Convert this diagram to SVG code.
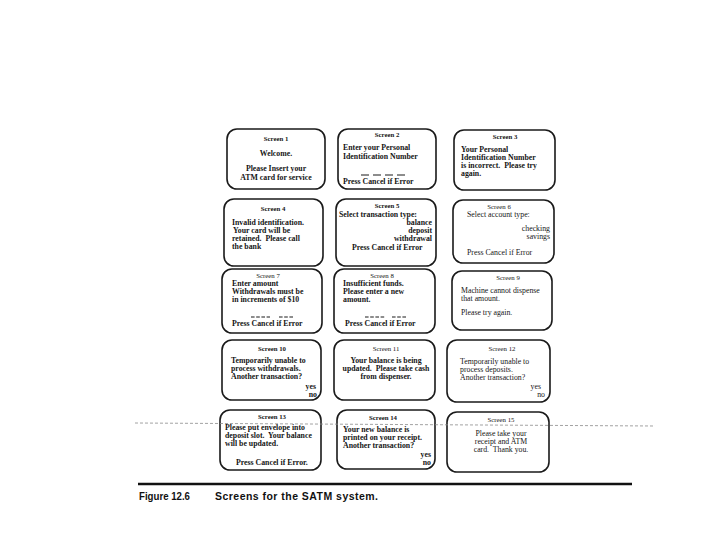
<svg xmlns="http://www.w3.org/2000/svg" width="720" height="540" viewBox="0 0 720 540">
<style>
.box{fill:#fff;stroke:#1a1a1a;stroke-width:1.6}
text{font-family:"Liberation Serif","Times New Roman",serif;fill:#151515}
.h{font-size:6.8px;font-weight:bold;text-anchor:middle}
.t{font-size:7.8px;font-weight:bold}
.n{font-size:7.8px;font-weight:normal}
.c{text-anchor:middle}
.r{text-anchor:end}
.dash{stroke:#1a1a1a;stroke-width:1;fill:none;stroke-dasharray:3.6 1.6}
.cap{font-family:"Liberation Sans",Arial,sans-serif;font-size:10.5px;font-weight:bold;fill:#111}
</style>
<rect width="720" height="540" fill="#fff"/>
<g id="screen1">
<rect class="box" x="227" y="129" width="98" height="60" rx="10"/>
<text class="h" x="276" y="141">Screen 1</text>
<text class="t c" x="276" y="156">Welcome.</text>
<text class="t c" x="276" y="171">Please Insert your</text>
<text class="t c" x="276" y="180">ATM card for service</text>
</g>
<g id="screen2">
<rect class="box" x="338" y="129" width="98" height="60" rx="10"/>
<text class="h" x="387" y="137">Screen 2</text>
<text class="t" x="343" y="150">Enter your Personal</text>
<text class="t" x="343" y="159">Identification Number</text>
<path class="dash" d="M361 175h46" style="stroke-dasharray:8 4"/>
<text class="t" x="343" y="184">Press Cancel if Error</text>
</g>
<g id="screen3">
<rect class="box" x="454" y="130" width="101" height="60" rx="10"/>
<text class="h" x="505" y="139">Screen 3</text>
<text class="t" x="461" y="152">Your Personal</text>
<text class="t" x="461" y="160">Identification Number</text>
<text class="t" x="461" y="168" xml:space="preserve">is incorrect.  Please try</text>
<text class="t" x="461" y="176">again.</text>
</g>
<g id="screen4">
<rect class="box" x="224" y="199" width="99" height="67" rx="10"/>
<text class="h" x="273" y="211">Screen 4</text>
<text class="t" x="232" y="225">Invalid identification.</text>
<text class="t" x="233" y="233">Your card will be</text>
<text class="t" x="232" y="241" xml:space="preserve">retained.  Please call</text>
<text class="t" x="232" y="249">the bank</text>
</g>
<g id="screen5">
<rect class="box" x="336" y="199" width="100" height="67" rx="10"/>
<text class="h" x="387" y="208">Screen 5</text>
<text class="t" x="339" y="217">Select transaction type:</text>
<text class="t r" x="432" y="225">balance</text>
<text class="t r" x="432" y="233">deposit</text>
<text class="t r" x="432" y="241">withdrawal</text>
<text class="t" x="352" y="250">Press Cancel if Error</text>
</g>
<g id="screen6">
<rect class="box" x="453" y="200" width="101" height="63" rx="10"/>
<text class="h" x="499" y="209" style="font-weight:normal">Screen 6</text>
<text class="n" x="467" y="217">Select account type:</text>
<text class="n r" x="550" y="231">checking</text>
<text class="n r" x="550" y="239">savings</text>
<text class="n" x="467" y="255">Press Cancel if Error</text>
</g>
<g id="screen7">
<rect class="box" x="222" y="269" width="100" height="64" rx="10"/>
<text class="h" x="268" y="278" style="font-weight:normal">Screen 7</text>
<text class="t" x="232" y="286">Enter amount</text>
<text class="t" x="232" y="294">Withdrawals must be</text>
<text class="t" x="232" y="302">in increments of $10</text>
<path class="dash" d="M251 317h19M279 317h14"/>
<text class="t" x="232" y="326">Press Cancel if Error</text>
</g>
<g id="screen8">
<rect class="box" x="334" y="269" width="101" height="64" rx="10"/>
<text class="h" x="382" y="278" style="font-weight:normal">Screen 8</text>
<text class="t" x="343" y="286">Insufficient funds.</text>
<text class="t" x="343" y="294">Please enter a new</text>
<text class="t" x="343" y="302">amount.</text>
<path class="dash" d="M365 317h20M392 317h15"/>
<text class="t" x="345" y="326">Press Cancel if Error</text>
</g>
<g id="screen9">
<rect class="box" x="452" y="271" width="100" height="59" rx="10"/>
<text class="h" x="508" y="280" style="font-weight:normal">Screen 9</text>
<text class="n" x="461" y="293">Machine cannot dispense</text>
<text class="n" x="461" y="301">that amount.</text>
<text class="n" x="461" y="315">Please try again.</text>
</g>
<g id="screen10">
<rect class="box" x="222" y="340" width="99" height="60" rx="10"/>
<text class="h" x="272" y="351">Screen 10</text>
<text class="t" x="231" y="363">Temporarily unable to</text>
<text class="t" x="231" y="371">process withdrawals.</text>
<text class="t" x="231" y="379">Another transaction?</text>
<text class="t r" x="316" y="389">yes</text>
<text class="t r" x="317" y="397">no</text>
</g>
<g id="screen11">
<rect class="box" x="334" y="340" width="101" height="60" rx="10"/>
<text class="h" x="386" y="351" style="font-weight:normal">Screen 11</text>
<text class="t c" x="386" y="363">Your balance is being</text>
<text class="t c" x="386" y="371" xml:space="preserve">updated.  Please take cash</text>
<text class="t c" x="386" y="379">from dispenser.</text>
</g>
<g id="screen12">
<rect class="box" x="447" y="340" width="103" height="62" rx="10"/>
<text class="h" x="502" y="351" style="font-weight:normal">Screen 12</text>
<text class="n" x="460" y="364">Temporarily unable to</text>
<text class="n" x="460" y="372">process deposits.</text>
<text class="n" x="460" y="380">Another transaction?</text>
<text class="n r" x="541" y="389">yes</text>
<text class="n r" x="545" y="397">no</text>
</g>
<g id="screen13">
<rect class="box" x="220" y="410" width="101" height="60" rx="10"/>
<text class="h" x="272" y="419">Screen 13</text>
<text class="t" x="225" y="430">Please put envelope into</text>
<text class="t" x="225" y="438" xml:space="preserve">deposit slot.  Your balance</text>
<text class="t" x="225" y="446">will be updated.</text>
<text class="t" x="236" y="465">Press Cancel if Error.</text>
</g>
<g id="screen14">
<rect class="box" x="337" y="410" width="98" height="59" rx="10"/>
<text class="h" x="383" y="420">Screen 14</text>
<text class="t" x="343" y="432">Your new balance is</text>
<text class="t" x="343" y="440">printed on your receipt.</text>
<text class="t" x="343" y="448">Another transaction?</text>
<text class="t r" x="431" y="457">yes</text>
<text class="t r" x="431" y="465">no</text>
</g>
<g id="screen15">
<rect class="box" x="447" y="412" width="102" height="60" rx="10"/>
<text class="h" x="501" y="422" style="font-weight:normal">Screen 15</text>
<text class="n c" x="501" y="436">Please take your</text>
<text class="n c" x="501" y="444">receipt and ATM</text>
<text class="n c" x="501" y="452" xml:space="preserve">card.  Thank you.</text>
</g>
<path d="M135 423L655 426" stroke="#8a8a8a" stroke-width="0.8" stroke-dasharray="3 2" fill="none"/>
<g id="caption">
<path d="M138 484H632" stroke="#111" stroke-width="2.5"/>
<text class="cap" x="139" y="500" textLength="51" lengthAdjust="spacingAndGlyphs">Figure 12.6</text>
<text class="cap" x="215" y="500" textLength="163" lengthAdjust="spacing">Screens for the SATM system.</text>
</g>
</svg>
